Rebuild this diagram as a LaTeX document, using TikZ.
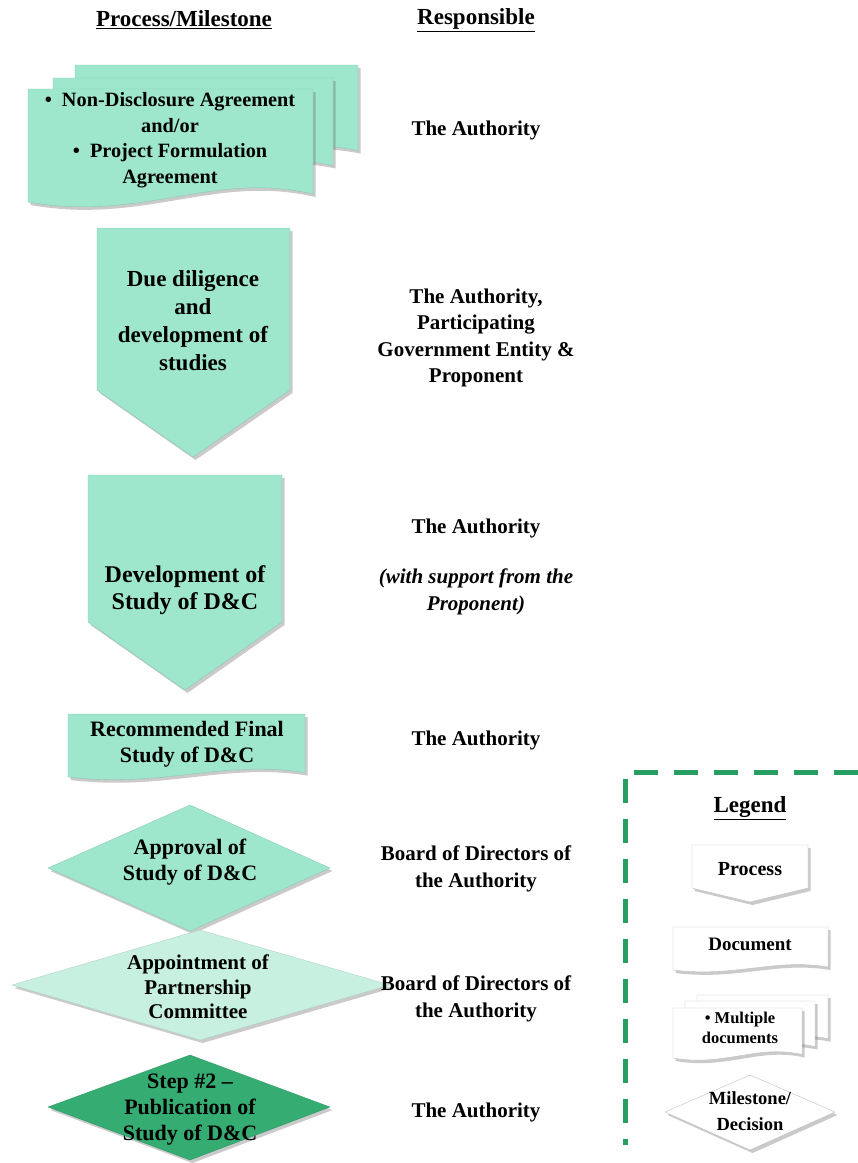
\documentclass[tikz,border=0pt]{standalone}
\usepackage{fontspec}
\setmainfont{Liberation Serif}
\usetikzlibrary{shapes.geometric,shadows}
\definecolor{mint}{RGB}{158,231,205}
\definecolor{lightmint}{RGB}{200,240,224}
\definecolor{darkmint}{RGB}{52,172,114}
\definecolor{dashgreen}{RGB}{40,158,98}
\newcommand\docpath[4]{(#1,#2) -- (#3,#2) -- (#3,{#4-0.07*(#4-#2)}) .. controls ({#3-0.35*(#3-#1)},{#4-0.28*(#4-#2)}) and ({#1+0.4*(#3-#1)},{#4+0.18*(#4-#2)}) .. (#1,#4) -- cycle}
\tikzset{
  shd/.style={drop shadow={shadow xshift=2.5pt,shadow yshift=-3pt,opacity=0.35,fill=black!60}},
  mintfill/.style={fill=mint,draw=mint!85!black,line width=0.3pt,shd},
  whitefill/.style={fill=white,draw=black!25,line width=0.4pt,shd},
  txt/.style={align=center,font=\fontsize{21}{26.5}\selectfont\bfseries,inner sep=0pt},
  headtxt/.style={align=center,font=\fontsize{23}{26}\selectfont\bfseries,inner sep=0pt},
  boxtxt/.style={align=center,font=\fontsize{22}{26.5}\selectfont\bfseries,inner sep=0pt},
  bigtxt/.style={align=center,font=\fontsize{23}{28}\selectfont\bfseries,inner sep=0pt},
  smalltxt/.style={align=center,font=\fontsize{19}{26}\selectfont\bfseries,inner sep=0pt},
  tinytxt/.style={align=center,font=\fontsize{16.5}{20}\selectfont\bfseries,inner sep=0pt},
}
\begin{document}
\begin{tikzpicture}[x=1pt,y=-1pt]
\useasboundingbox (0,0) rectangle (858,1163);
% headers
\node[headtxt] (h1) at (184,20) {\underline{Process/Milestone}};
\node[headtxt] (h2) at (476,20) {\underline{Responsible}};
% multiple documents
\path[mintfill] \docpath{75}{65}{358}{157};
\path[mintfill] \docpath{53}{78}{333}{172};
\path[mintfill] \docpath{28}{89}{313}{202};
\node[boxtxt,font=\fontsize{20.3}{25.5}\selectfont\bfseries] (nda) at (170,140) {\textbullet\ \ Non-Disclosure Agreement\\and/or\\\textbullet\ \ Project Formulation\\Agreement};
\node[txt] (r1) at (476,130) {The Authority};
% pentagon 1
\path[mintfill] (97,228) -- (290,228) -- (290,390) -- (193,457) -- (97,390) -- cycle;
\node[bigtxt] (due) at (193,321) {Due diligence\\and\\development of\\studies};
\node[txt] (r2) at (476,338) {The Authority,\\Participating\\Government Entity \&\\Proponent};
% pentagon 2
\path[mintfill] (88,475) -- (282,475) -- (282,622) -- (185,690) -- (88,622) -- cycle;
\node[bigtxt,font=\fontsize{24}{27}\selectfont\bfseries] (dev) at (185,590) {Development of\\Study of D\&C};
\node[txt] (r3a) at (476,528) {The Authority};
\node[txt,font=\fontsize{21}{26.5}\selectfont\bfseries\itshape] (r3b) at (476,592) {(with support from the\\Proponent)};
% document
\path[mintfill] \docpath{68}{714}{305}{777};
\node[boxtxt] (rec) at (187,744) {Recommended Final\\Study of D\&C};
\node[txt] (r4) at (476,740) {The Authority};
% diamonds
\path[mintfill] (190,805) -- (330,868) -- (190,931) -- (48,868) -- cycle;
\node[boxtxt] (app) at (190,862) {Approval of\\Study of D\&C};
\node[txt] (r5) at (476,869) {Board of Directors of\\the Authority};
\path[fill=lightmint,draw=lightmint!85!black,line width=0.3pt,shd] (200,930) -- (390,985) -- (200,1040) -- (12,985) -- cycle;
\node[boxtxt,font=\fontsize{21}{24.5}\selectfont\bfseries] (apt) at (198,987) {Appointment of\\Partnership\\Committee};
\node[txt] (r6) at (476,999) {Board of Directors of\\the Authority};
\path[fill=darkmint,draw=darkmint!85!black,line width=0.3pt,shd] (190,1055) -- (330,1107) -- (190,1160) -- (48,1107) -- cycle;
\node[boxtxt,font=\fontsize{22}{26}\selectfont\bfseries] (pub) at (190,1110) {Step \#2 --\\Publication of\\Study of D\&C};
\node[txt] (r7) at (476,1112) {The Authority};
% legend box
\draw[dashgreen,line width=5pt,dash pattern=on 24pt off 16pt] (858,772) -- (625,772) -- (625,1145);
\node[headtxt] (leg) at (750,808) {\underline{Legend}};
\path[whitefill] (692,845) -- (808,845) -- (808,888) -- (750,902) -- (692,888) -- cycle;
\node[smalltxt,font=\fontsize{20}{26}\selectfont\bfseries] (lp) at (750,869) {Process};
\path[whitefill] \docpath{673}{927}{828}{970};
\node[smalltxt] (ld) at (750,944) {Document};
\path[whitefill] \docpath{697}{995}{828}{1042};
\path[whitefill] \docpath{685}{1001}{815}{1050};
\path[whitefill] \docpath{673}{1008}{802}{1058};
\node[tinytxt] (lm) at (740,1028) {\textbullet\ Multiple\\documents};
\path[whitefill] (750,1075) -- (835,1112) -- (750,1150) -- (665,1112) -- cycle;
\node[smalltxt,font=\fontsize{18.5}{26}\selectfont\bfseries] (lms) at (750,1111) {Milestone/\\Decision};
\end{tikzpicture}
\end{document}
